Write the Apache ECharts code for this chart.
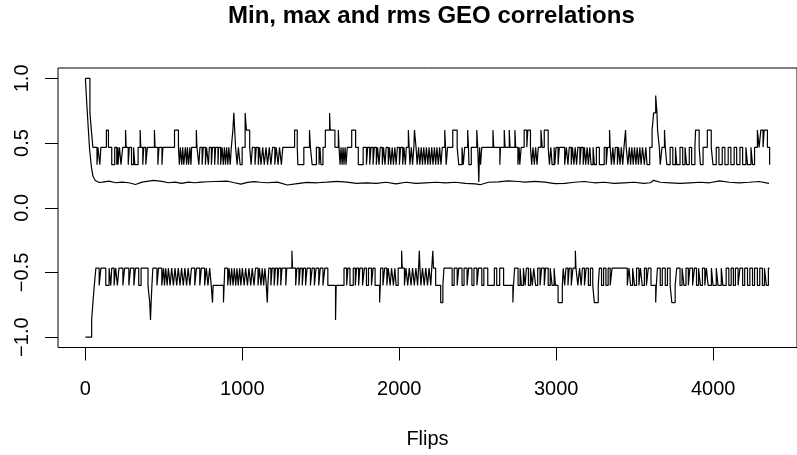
<!DOCTYPE html>
<html>
<head>
<meta charset="utf-8">
<title>Min, max and rms GEO correlations</title>
<script src="https://cdn.jsdelivr.net/npm/echarts@6/dist/echarts.min.js"></script>
<style>
  html, body { margin: 0; padding: 0; background: #fff; }
  #chart { width: 797px; height: 455px; }
</style>
</head>
<body>
<div id="chart"></div>
<script>
// x ticks / y ticks
const xTicks = [0, 1000, 2000, 3000, 4000];
const yTicks = [-1, -0.5, 0, 0.5, 1];
const lastFlip = 4360;

// max correlation: base level + excursions [from, to, level]
const maxBase = 0.467;
const maxStart = [[0, 29, 1.0], [29, 38, 0.733], [38, 48, 0.6]];
const maxExcursions = [
  [74, 80, 0.333], [92, 99, 0.333], [134, 147, 0.6], [168, 187, 0.333], [200, 206, 0.333],
  [208, 217, 0.333], [227, 238, 0.333], [256, 260, 0.6], [273, 280, 0.333], [294, 307, 0.333],
  [315, 336, 0.333], [349, 353, 0.6], [366, 372, 0.333], [385, 395, 0.333], [440, 444, 0.6],
  [462, 469, 0.333], [488, 494, 0.333], [568, 593, 0.6], [599, 605, 0.333], [614, 620, 0.333],
  [627, 637, 0.333], [645, 650, 0.333], [658, 666, 0.333], [673, 677, 0.333], [707, 711, 0.6],
  [723, 730, 0.333], [744, 751, 0.333], [765, 772, 0.333], [784, 790, 0.333], [803, 810, 0.333],
  [824, 830, 0.333], [845, 849, 0.333], [862, 871, 0.333], [879, 886, 0.333], [893, 900, 0.333],
  [908, 914, 0.333], [923, 930, 0.333], [940, 946, 0.6], [946, 957, 0.733], [967, 975, 0.333],
  [986, 999, 0.333], [1018, 1026, 0.733], [1026, 1047, 0.6], [1056, 1064, 0.333], [1081, 1089, 0.333],
  [1102, 1110, 0.333], [1119, 1130, 0.333], [1140, 1151, 0.333], [1161, 1172, 0.333], [1182, 1193, 0.333],
  [1207, 1216, 0.333], [1228, 1237, 0.333], [1249, 1258, 0.333], [1333, 1350, 0.6], [1354, 1392, 0.333],
  [1428, 1434, 0.6], [1445, 1472, 0.333], [1489, 1495, 0.333], [1501, 1514, 0.333], [1529, 1556, 0.6],
  [1556, 1560, 0.733], [1560, 1590, 0.6], [1612, 1616, 0.6], [1623, 1629, 0.333], [1636, 1642, 0.333],
  [1648, 1655, 0.333], [1661, 1669, 0.333], [1697, 1722, 0.6], [1739, 1770, 0.333], [1791, 1799, 0.333],
  [1812, 1820, 0.333], [1833, 1841, 0.333], [1854, 1862, 0.333], [1871, 1879, 0.333], [1892, 1900, 0.333],
  [1909, 1917, 0.333], [1930, 1938, 0.333], [1946, 1955, 0.333], [1963, 1972, 0.333], [1980, 1988, 0.333],
  [2001, 2009, 0.333], [2022, 2030, 0.333], [2039, 2045, 0.333], [2058, 2063, 0.6], [2068, 2077, 0.333],
  [2085, 2093, 0.333], [2097, 2107, 0.6], [2114, 2123, 0.333], [2131, 2140, 0.333], [2148, 2156, 0.333],
  [2165, 2173, 0.333], [2182, 2190, 0.333], [2198, 2207, 0.333], [2215, 2224, 0.333], [2232, 2240, 0.333],
  [2249, 2257, 0.333], [2266, 2274, 0.333], [2290, 2295, 0.6], [2299, 2308, 0.333], [2341, 2369, 0.6],
  [2379, 2400, 0.333], [2408, 2417, 0.333], [2436, 2441, 0.6], [2444, 2459, 0.333], [2494, 2500, 0.6],
  [2507, 2512, 0.2], [2518, 2526, 0.333], [2597, 2602, 0.6], [2641, 2645, 0.333], [2669, 2674, 0.6],
  [2701, 2706, 0.6], [2737, 2742, 0.6], [2756, 2764, 0.333], [2768, 2777, 0.333], [2796, 2813, 0.6],
  [2819, 2836, 0.6], [2844, 2852, 0.333], [2861, 2869, 0.333], [2878, 2886, 0.333], [2903, 2911, 0.6],
  [2924, 2949, 0.6], [2957, 2966, 0.333], [2974, 2987, 0.333], [2991, 2999, 0.333], [3012, 3020, 0.333],
  [3054, 3065, 0.333], [3075, 3083, 0.333], [3096, 3104, 0.333], [3113, 3121, 0.333], [3130, 3138, 0.333],
  [3151, 3159, 0.333], [3172, 3180, 0.333], [3188, 3197, 0.333], [3205, 3214, 0.333], [3222, 3235, 0.333],
  [3243, 3256, 0.333], [3275, 3306, 0.333], [3319, 3327, 0.333], [3340, 3344, 0.6], [3352, 3361, 0.333],
  [3369, 3377, 0.333], [3390, 3398, 0.333], [3407, 3415, 0.333], [3424, 3432, 0.333], [3442, 3446, 0.6],
  [3457, 3466, 0.333], [3474, 3482, 0.333], [3491, 3499, 0.333], [3508, 3516, 0.333], [3524, 3533, 0.333],
  [3541, 3550, 0.333], [3562, 3571, 0.333], [3579, 3596, 0.333], [3611, 3621, 0.6], [3621, 3634, 0.733],
  [3634, 3642, 0.867], [3642, 3646, 0.733], [3646, 3657, 0.6], [3663, 3674, 0.333], [3690, 3695, 0.6],
  [3705, 3726, 0.333], [3743, 3760, 0.333], [3768, 3789, 0.333], [3806, 3821, 0.333], [3831, 3848, 0.333],
  [3863, 3884, 0.333], [3888, 3911, 0.6], [3919, 3936, 0.333], [3963, 3988, 0.6], [3999, 4020, 0.333],
  [4037, 4058, 0.333], [4075, 4096, 0.333], [4113, 4134, 0.333], [4150, 4171, 0.333], [4188, 4209, 0.333],
  [4219, 4241, 0.333], [4251, 4264, 0.333], [4282, 4293, 0.6], [4304, 4318, 0.6], [4325, 4346, 0.6],
  [4360, 4360, 0.333]
];

// min correlation
const minBase = -0.467;
const minStart = [[0, 40, -1.0], [40, 48, -0.867], [48, 57, -0.733], [57, 67, -0.6]];
const minExcursions = [
  [88, 99, -0.6], [130, 151, -0.6], [162, 168, -0.6], [183, 193, -0.6], [204, 214, -0.6],
  [239, 250, -0.6], [277, 288, -0.6], [309, 319, -0.6], [340, 355, -0.6], [399, 410, -0.6],
  [410, 415, -0.733], [415, 419, -0.867], [419, 424, -0.733], [424, 430, -0.6], [456, 466, -0.6],
  [487, 498, -0.6], [504, 512, -0.6], [521, 529, -0.6], [540, 550, -0.6], [561, 571, -0.6],
  [582, 592, -0.6], [603, 613, -0.6], [624, 634, -0.6], [645, 655, -0.6], [666, 676, -0.6],
  [697, 708, -0.6], [729, 739, -0.6], [760, 771, -0.6], [781, 792, -0.6], [802, 810, -0.6],
  [810, 814, -0.733], [814, 880, -0.6], [880, 884, -0.733], [884, 888, -0.6], [907, 916, -0.6],
  [924, 932, -0.6], [941, 949, -0.6], [958, 966, -0.6], [974, 983, -0.6], [991, 1000, -0.6],
  [1012, 1021, -0.6], [1033, 1042, -0.6], [1054, 1063, -0.6], [1075, 1084, -0.6], [1100, 1109, -0.6],
  [1119, 1127, -0.6], [1136, 1144, -0.6], [1153, 1159, -0.6], [1159, 1163, -0.733], [1163, 1169, -0.6],
  [1182, 1190, -0.6], [1203, 1211, -0.6], [1224, 1232, -0.6], [1245, 1253, -0.6], [1277, 1283, -0.6],
  [1316, 1320, -0.333], [1340, 1348, -0.6], [1361, 1369, -0.6], [1382, 1390, -0.6], [1403, 1413, -0.6],
  [1434, 1445, -0.6], [1459, 1470, -0.6], [1487, 1497, -0.6], [1514, 1526, -0.6], [1545, 1594, -0.6],
  [1594, 1598, -0.867], [1598, 1648, -0.6], [1665, 1673, -0.6], [1686, 1707, -0.6], [1720, 1728, -0.6],
  [1741, 1749, -0.6], [1766, 1778, -0.6], [1791, 1804, -0.6], [1823, 1833, -0.6], [1846, 1875, -0.6],
  [1875, 1879, -0.733], [1879, 1881, -0.6], [1896, 1907, -0.6], [1921, 1930, -0.6], [1942, 1951, -0.6],
  [1963, 1972, -0.6], [1980, 1993, -0.6], [2015, 2019, -0.333], [2033, 2043, -0.6], [2054, 2064, -0.6],
  [2075, 2085, -0.6], [2096, 2106, -0.6], [2117, 2123, -0.6], [2128, 2132, -0.333], [2138, 2148, -0.6],
  [2159, 2169, -0.6], [2180, 2190, -0.6], [2201, 2207, -0.6], [2214, 2218, -0.333], [2232, 2264, -0.6],
  [2264, 2278, -0.733], [2278, 2285, -0.6], [2337, 2350, -0.6], [2369, 2379, -0.6], [2400, 2413, -0.6],
  [2432, 2442, -0.6], [2463, 2476, -0.6], [2495, 2505, -0.6], [2526, 2539, -0.6], [2564, 2606, -0.6],
  [2621, 2640, -0.6], [2665, 2724, -0.6], [2724, 2728, -0.733], [2728, 2735, -0.6], [2757, 2770, -0.6],
  [2778, 2791, -0.6], [2802, 2810, -0.6], [2823, 2836, -0.6], [2848, 2857, -0.6], [2869, 2882, -0.6],
  [2897, 2907, -0.6], [2924, 2932, -0.6], [2949, 2962, -0.6], [2974, 2987, -0.6], [2995, 3012, -0.6],
  [3012, 3039, -0.733], [3039, 3045, -0.6], [3054, 3062, -0.6], [3075, 3083, -0.6], [3096, 3107, -0.6],
  [3122, 3126, -0.333], [3138, 3149, -0.6], [3159, 3167, -0.6], [3180, 3191, -0.6], [3205, 3218, -0.6],
  [3233, 3243, -0.6], [3243, 3268, -0.733], [3268, 3275, -0.6], [3289, 3302, -0.6], [3317, 3331, -0.6],
  [3344, 3356, -0.6], [3453, 3464, -0.6], [3474, 3487, -0.6], [3499, 3512, -0.6], [3527, 3537, -0.6],
  [3548, 3562, -0.6], [3575, 3587, -0.6], [3604, 3634, -0.6], [3634, 3638, -0.733], [3638, 3645, -0.6],
  [3663, 3676, -0.6], [3695, 3709, -0.6], [3726, 3737, -0.6], [3737, 3758, -0.733], [3758, 3768, -0.6],
  [3789, 3802, -0.6], [3814, 3827, -0.6], [3842, 3852, -0.6], [3869, 3881, -0.6], [3894, 3907, -0.6],
  [3919, 3932, -0.6], [3947, 3957, -0.6], [3968, 3989, -0.6], [3999, 4020, -0.6], [4031, 4052, -0.6],
  [4062, 4083, -0.6], [4100, 4115, -0.6], [4129, 4142, -0.6], [4159, 4171, -0.6], [4188, 4201, -0.6],
  [4219, 4234, -0.6], [4251, 4264, -0.6], [4282, 4297, -0.6], [4314, 4327, -0.6], [4339, 4352, -0.6]
];

// rms correlation
const rmsFlips = [
  0, 10, 19, 27, 38, 48, 63, 88, 109, 151, 193, 235, 277, 319, 361, 403, 435, 487, 529, 571,
  613, 655, 697, 739, 781, 823, 865, 907, 949, 991, 1033, 1075, 1117, 1159, 1224, 1287, 1350, 1413,
  1476, 1539, 1602, 1665, 1728, 1791, 1854, 1917, 1980, 2043, 2106, 2169, 2232, 2295, 2358, 2421,
  2484, 2516, 2568, 2631, 2694, 2757, 2802, 2865, 2928, 2991, 3054, 3117, 3180, 3243, 3306, 3369,
  3432, 3495, 3558, 3600, 3621, 3663, 3726, 3789, 3852, 3915, 3978, 4041, 4104, 4167, 4230, 4293, 4356
];
const rmsVals = [
  1.0, 0.785, 0.605, 0.45, 0.32, 0.245, 0.21, 0.195, 0.198, 0.206, 0.193, 0.198, 0.193, 0.18, 0.198,
  0.206, 0.212, 0.204, 0.193, 0.198, 0.188, 0.198, 0.193, 0.198, 0.201, 0.203, 0.204, 0.205, 0.193,
  0.183, 0.196, 0.202, 0.197, 0.193, 0.198, 0.176, 0.186, 0.196, 0.193, 0.198, 0.204, 0.198, 0.189,
  0.193, 0.189, 0.197, 0.184, 0.197, 0.189, 0.193, 0.197, 0.193, 0.197, 0.188, 0.184, 0.178, 0.197,
  0.2, 0.208, 0.203, 0.198, 0.204, 0.198, 0.187, 0.188, 0.197, 0.203, 0.193, 0.197, 0.189, 0.193,
  0.197, 0.189, 0.193, 0.212, 0.197, 0.193, 0.189, 0.193, 0.197, 0.193, 0.208, 0.197, 0.193, 0.197,
  0.203, 0.189
];

// turn base + excursions into step points
function buildSteps(startSeg, base, excursions, endX) {
  const pts = [];
  let last = 0;
  startSeg.concat(excursions).forEach(([a, b, v]) => {
    if (a < last) a = last;
    if (a > last) pts.push([last, base]);
    pts.push([a, v]);
    last = b;
  });
  if (last < endX) {
    pts.push([last, base]);
    pts.push([endX, base]);
  }
  return pts;
}

const maxData = buildSteps(maxStart, maxBase, maxExcursions, lastFlip);
const minData = buildSteps(minStart, minBase, minExcursions, lastFlip);
const rmsData = rmsFlips.map((f, i) => [f, rmsVals[i]]);

const chart = echarts.init(document.getElementById("chart"), null, { renderer: "canvas" });
const font = "'Liberation Sans', Arial, Helvetica, sans-serif";
const lineStyle = { color: "#000", width: 1.2 };

// R pads the data range by 4% on each side
const xMin = -0.04 * lastFlip;
const xMax = lastFlip * 1.04;

chart.setOption({
  animation: false,
  backgroundColor: "#fff",
  graphic: [
    {
      type: "text",
      left: 433 - 205,
      top: 4,
      style: { text: "Min, max and rms GEO correlations", font: "bold 24px " + font, fill: "#000" },
    },
  ],
  grid: {
    left: 58,
    right: -7,
    top: 68,
    bottom: 107.5,
    show: true,
    borderColor: "#000",
    borderWidth: 1,
    backgroundColor: "transparent",
  },
  xAxis: {
    type: "value",
    min: xMin,
    max: xMax,
    name: "Flips",
    nameLocation: "middle",
    nameGap: 82,
    nameTextStyle: { color: "#000", fontSize: 20, fontFamily: font },
    axisLine: { show: false, onZero: false },
    axisTick: { show: true, length: 13, customValues: xTicks, lineStyle: { color: "#000" } },
    axisLabel: {
      customValues: xTicks,
      color: "#000",
      fontSize: 20,
      fontFamily: font,
      margin: 32,
      formatter: (v) => String(v),
    },
    splitLine: { show: false },
  },
  yAxis: {
    type: "value",
    min: -1.08,
    max: 1.08,
    axisLine: { show: false, onZero: false },
    axisTick: { show: true, length: 13, customValues: yTicks, lineStyle: { color: "#000" } },
    axisLabel: {
      customValues: yTicks,
      rotate: 90,
      color: "#000",
      fontSize: 20,
      fontFamily: font,
      margin: 26,
      formatter: (v) => (v < 0 ? "\u2212" : "") + Math.abs(v).toFixed(1),
    },
    splitLine: { show: false },
  },
  series: [
    { name: "max", type: "line", step: "end", data: maxData, showSymbol: false, lineStyle },
    { name: "rms", type: "line", data: rmsData, showSymbol: false, lineStyle },
    { name: "min", type: "line", step: "end", data: minData, showSymbol: false, lineStyle },
  ],
});
</script>
</body>
</html>
